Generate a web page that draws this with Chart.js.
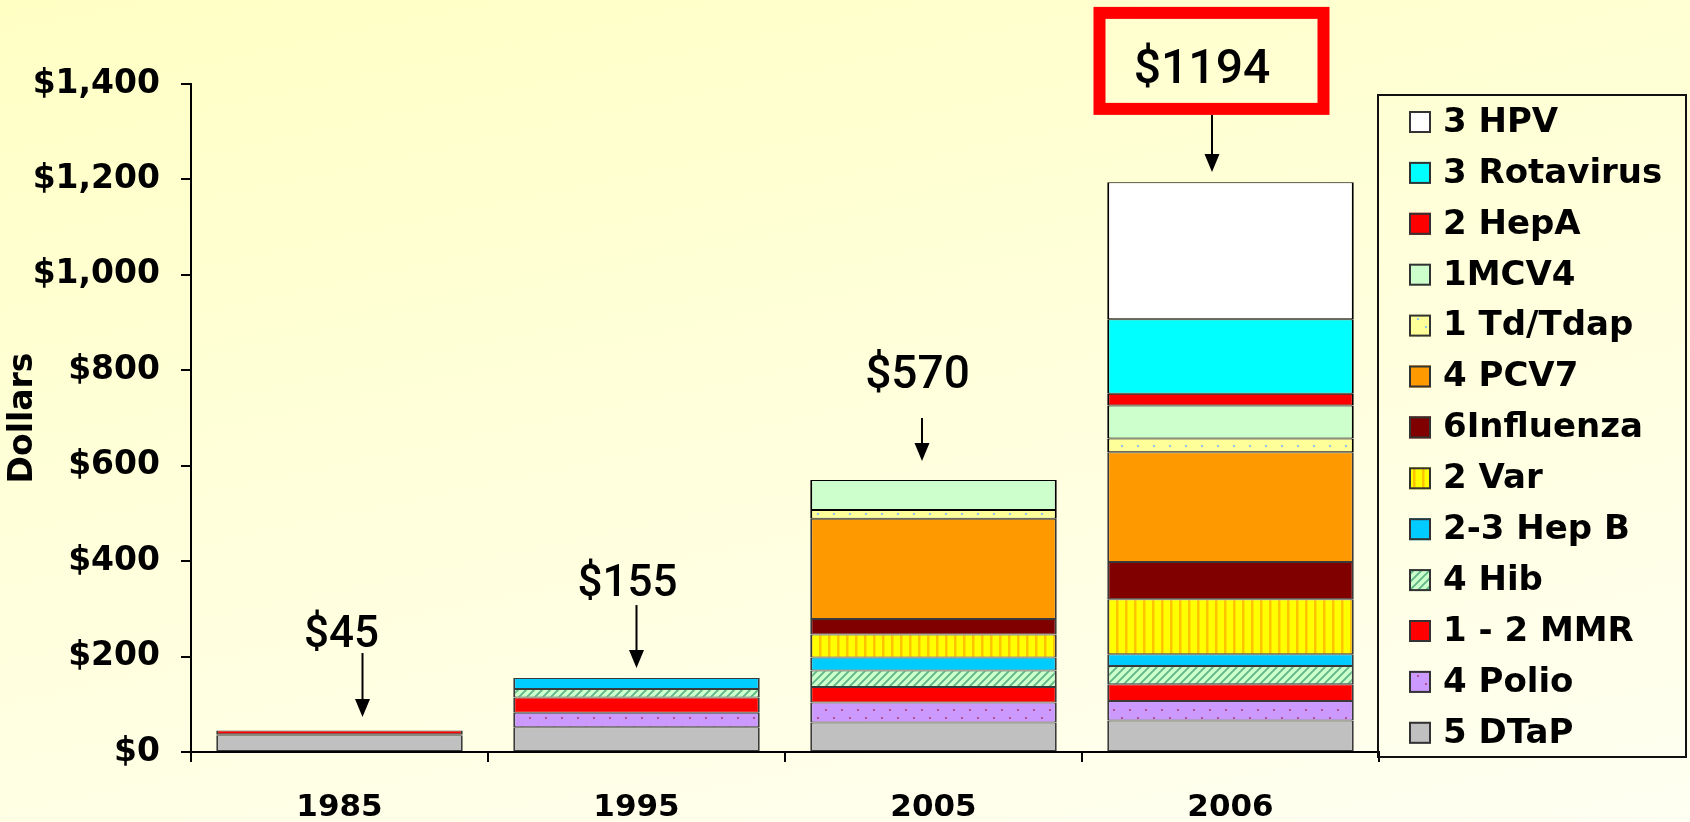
<!DOCTYPE html>
<html><head><meta charset="utf-8">
<script src="https://cdn.jsdelivr.net/npm/chart.js@4"></script>
<style>
html,body{margin:0;padding:0;width:1690px;height:822px;overflow:hidden;
background:linear-gradient(168deg,#FFFFC4 0%,#FFFFDA 45%,#FFFFF2 100%);}
canvas{position:absolute;left:0;top:0;}
</style></head><body>
<canvas id="c" width="1690" height="822"></canvas>
<script>
// ---- data ----
const years = ["1985", "1995", "2005", "2006"];
const seriesNames = ["5 DTaP", "4 Polio", "1 - 2 MMR", "4 Hib", "2-3 Hep B", "2 Var", "6Influenza", "4 PCV7", "1 Td/Tdap", "1MCV4", "2 HepA", "3 Rotavirus", "3 HPV"];
const dtap      = [35, 52, 62, 66];
const polio     = [2, 30, 42, 41];
const mmr       = [8, 32, 32, 35];
const hib       = [null, 18, 35, 38];
const hepB      = [null, 23, 27, 25];
const varicella = [null, null, 48, 115];
const influenza = [null, null, 33, 78];
const pcv7      = [null, null, 210, 230];
const tdap      = [null, null, 18, 29];
const mcv4      = [null, null, 63, 69];
const hepA      = [null, null, null, 25];
const rotavirus = [null, null, null, 156];
const hpv       = [null, null, null, 287];
const totalLabels = ["$45", "$155", "$570", "$1194"];
const yAxisTitle = "Dollars";

// ---- patterns ----
const canvas = document.getElementById('c');
const ctx = canvas.getContext('2d');
function makePattern(w, h, draw) {
  const c = document.createElement('canvas'); c.width = w; c.height = h;
  const g = c.getContext('2d'); draw(g, w, h);
  return ctx.createPattern(c, 'repeat');
}
const dotPattern = (base, dot) => makePattern(16, 17, (g, w, h) => {
  g.fillStyle = base; g.fillRect(0, 0, w, h);
  g.fillStyle = dot; g.fillRect(1, 3, 2, 2); g.fillRect(9, 12, 2, 2);
});
const polioFill = dotPattern('#CC99FF', '#B0508F');
const tdapFill = dotPattern('#FFFF99', '#8FC6F0');
const hibFill = makePattern(8, 8, (g, w, h) => {
  g.fillStyle = '#CCFFCC'; g.fillRect(0, 0, w, h);
  g.strokeStyle = '#5DB585'; g.lineWidth = 1.8;
  g.beginPath();
  g.moveTo(-2, 10); g.lineTo(10, -2);
  g.moveTo(-2, 2); g.lineTo(2, -2);
  g.moveTo(6, 10); g.lineTo(10, 6);
  g.stroke();
});
const varFill = makePattern(9, 4, (g, w, h) => {
  g.fillStyle = '#FFFF00'; g.fillRect(0, 0, w, h);
  g.fillStyle = '#FFC400'; g.fillRect(0, 0, 2.5, h);
});

const seriesValues = [dtap, polio, mmr, hib, hepB, varicella, influenza, pcv7, tdap, mcv4, hepA, rotavirus, hpv];
const fills = ['#C0C0C0', polioFill, '#FF0000', hibFill, '#00CCFF', varFill, '#800000', '#FF9900', tdapFill, '#CCFFCC', '#FF0000', '#00FFFF', '#FFFFFF'];
const borders = ['#3A3A3A','#3A3A3A','#3A3A3A','#3A3A3A','#3A3A3A','#3A3A3A','#3A3A3A','#3A3A3A','#000','#000','#000','#000','#000'];

const datasets = seriesNames.map((n, i) => ({
  label: n, data: seriesValues[i], backgroundColor: fills[i], borderColor: borders[i],
  borderWidth: {top: 1, bottom: 1, left: 2, right: 2}, borderSkipped: false,
  categoryPercentage: 1.0, barPercentage: 0.83
}));

const boldFont = (size) => ({family: 'DejaVu Sans', weight: 'bold', size: size});

// annotation geometry (relative to category center / stack top)
const annotGeom = [
  {lx: 2,     ly: -95,    ax: 23,    a0: -77.5, a1: -13.5, size: 44},
  {lx: -9,    ly: -93,    ax: 0,     a0: -73,   a1: -10,   size: 44},
  {lx: -16,   ly: -104,   ax: -11.5, a0: -62,   a1: -19,   size: 46},
  {lx: -28.5, ly: -111,   ax: -18.5, a0: -67.4, a1: -10.4, size: 48, box: {dx: -19, dy: -121.4, w: 224, h: 96}}
];

const annotPlugin = {
  id: 'annot',
  afterDraw(chart) {
    const c = chart.ctx, xs = chart.scales.x, ys = chart.scales.y;
    c.save();
    years.forEach((yr, i) => {
      let total = 0;
      chart.data.datasets.forEach(d => { if (d.data[i] != null) total += d.data[i]; });
      const cx = xs.getPixelForValue(i), top = ys.getPixelForValue(total);
      const g = annotGeom[i];
      if (g.box) {
        c.strokeStyle = '#FF0000'; c.lineWidth = 12;
        c.strokeRect(cx + g.box.dx - g.box.w / 2, top + g.box.dy - g.box.h / 2, g.box.w, g.box.h);
      }
      c.fillStyle = '#000';
      c.font = '500 ' + g.size + 'px Roboto, "Liberation Sans", sans-serif';
      c.textAlign = 'center'; c.textBaseline = 'middle';
      c.fillText(totalLabels[i], cx + g.lx, top + g.ly);
      const ax = cx + g.ax, y0 = top + g.a0, y1 = top + g.a1;
      c.strokeStyle = '#000'; c.lineWidth = 2;
      c.beginPath(); c.moveTo(ax, y0); c.lineTo(ax, y1 - 14); c.stroke();
      c.beginPath(); c.moveTo(ax - 7.5, y1 - 18); c.lineTo(ax + 7.5, y1 - 18); c.lineTo(ax, y1); c.closePath(); c.fill();
    });
    c.restore();
  }
};

const legendPlugin = {
  id: 'boxLegend',
  afterDraw(chart) {
    const c = chart.ctx;
    c.save();
    c.strokeStyle = '#111'; c.lineWidth = 2;
    c.strokeRect(1378, 95, 308, 662);
    const ds = chart.data.datasets.slice().reverse();
    c.font = 'bold 34px "DejaVu Sans"';
    c.textAlign = 'left'; c.textBaseline = 'middle';
    ds.forEach((d, k) => {
      const cy = 122 + k * 50.9;
      c.fillStyle = d.backgroundColor;
      c.fillRect(1409, cy - 11, 22, 22);
      c.strokeStyle = '#333'; c.lineWidth = 2;
      c.strokeRect(1410, cy - 10, 20, 20);
      c.fillStyle = '#000';
      c.fillText(d.label, 1443, cy + 1);
    });
    c.restore();
  }
};

new Chart(canvas, {
  type: 'bar',
  data: {labels: years, datasets: datasets},
  options: {
    responsive: false, animation: false, devicePixelRatio: 1,
    layout: {padding: {top: 84, right: 311, left: 0, bottom: 0}},
    plugins: {legend: {display: false}, tooltip: {enabled: false}},
    scales: {
      x: {
        stacked: true,
        grid: {offset: true, drawOnChartArea: false, drawTicks: true, tickLength: 10, color: '#000', lineWidth: 2},
        border: {color: '#000', width: 2},
        ticks: {font: boldFont(31), color: '#000', padding: 27},
        afterFit(s) { s.height = 70; }
      },
      y: {
        stacked: true, min: 0, max: 1400,
        grid: {drawOnChartArea: false, drawTicks: true, tickLength: 10, color: '#000', lineWidth: 2},
        border: {color: '#000', width: 2},
        ticks: {stepSize: 200, font: boldFont(33), color: '#000', padding: 21,
          callback: (v) => '$' + Number(v).toLocaleString('en-US')},
        title: {display: true, text: yAxisTitle, font: boldFont(33), color: '#000', padding: {top: 4, bottom: 0}},
        afterFit(s) { s.width = 191; }
      }
    }
  },
  plugins: [annotPlugin, legendPlugin]
});
</script>
</body></html>
